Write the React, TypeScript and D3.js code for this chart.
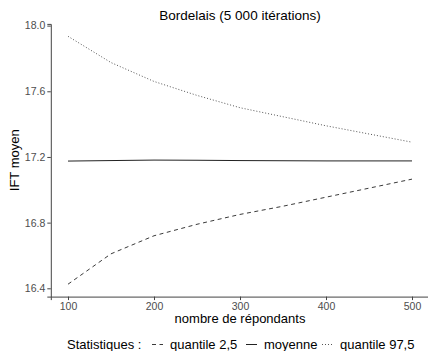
import React, { useEffect, useRef } from 'react';
import * as d3 from 'd3';

// nombre de répondants
const repondants = [100, 150, 200, 250, 300, 350, 400, 450, 500];
// statistiques de l'IFT moyen
const quantile025 = [16.425, 16.61, 16.72, 16.79, 16.85, 16.9, 16.955, 17.01, 17.065];
const moyenne = [17.175, 17.178, 17.181, 17.18, 17.178, 17.177, 17.176, 17.176, 17.176];
const quantile975 = [17.935, 17.775, 17.66, 17.575, 17.5, 17.445, 17.39, 17.34, 17.29];

const xTicks = [100, 200, 300, 400, 500];
const yTicks = [16.4, 16.8, 17.2, 17.6, 18.0];

const series = [
  { name: 'quantile 2,5', values: quantile025, dash: '4,3.5', color: '#3a3a3a' },
  { name: 'moyenne', values: moyenne, dash: null, color: '#222' },
  { name: 'quantile 97,5', values: quantile975, dash: '1,2', color: '#555' },
];

const font = 'Liberation Sans, Arial, Helvetica, sans-serif';

function App() {
  const ref = useRef(null);

  useEffect(() => {
    const svg = d3.select(ref.current);
    svg.selectAll('*').remove();

    const width = 428, height = 351;
    const left = 50.8, right = 429.2, top = 23.9, bottom = 296.6;

    // ggplot-like 5% expansion
    const xExt = d3.extent(repondants);
    const xPad = (xExt[1] - xExt[0]) * 0.05;
    const x = d3.scaleLinear().domain([xExt[0] - xPad, xExt[1] + xPad]).range([left, right]);

    const all = quantile025.concat(moyenne, quantile975);
    const yExt = d3.extent(all);
    const yPad = (yExt[1] - yExt[0]) * 0.05;
    const y = d3.scaleLinear().domain([yExt[0] - yPad, yExt[1] + yPad]).range([bottom, top]);

    svg.attr('width', width).attr('height', height);

    // lines
    const line = d3.line().x((d) => x(d[0])).y((d) => y(d[1]));
    series.forEach((s) => {
      svg.append('path')
        .datum(repondants.map((r, i) => [r, s.values[i]]))
        .attr('d', line)
        .attr('fill', 'none')
        .attr('stroke', s.color)
        .attr('stroke-width', 1)
        .attr('stroke-dasharray', s.dash);
    });

    // axes
    const xAxis = svg.append('g').attr('transform', `translate(0, ${bottom})`)
      .call(d3.axisBottom(x).tickValues(xTicks).tickSize(3.5).tickPadding(2).tickFormat(d3.format('d')));
    const yAxis = svg.append('g').attr('transform', `translate(${left}, 0)`)
      .call(d3.axisLeft(y).tickValues(yTicks).tickSize(3.5).tickPadding(2).tickFormat(d3.format('.1f')));

    [xAxis, yAxis].forEach((a) => {
      a.select('.domain').attr('stroke', '#444').attr('stroke-width', 1);
      a.selectAll('.tick line').attr('stroke', '#444');
      a.selectAll('.tick text').attr('fill', '#4d4d4d').style('font-size', '10.5px').style('font-family', font);
    });

    // title
    svg.append('text')
      .attr('x', (left + right) / 2).attr('y', 20)
      .attr('text-anchor', 'middle')
      .style('font-family', font).style('font-size', '13.5px')
      .text('Bordelais (5 000 itérations)');

    // axis titles
    svg.append('text')
      .attr('x', (left + right) / 2).attr('y', 323)
      .attr('text-anchor', 'middle')
      .style('font-family', font).style('font-size', '13px')
      .text('nombre de répondants');

    svg.append('text')
      .attr('transform', `translate(19, ${(top + bottom) / 2}) rotate(-90)`)
      .attr('text-anchor', 'middle')
      .style('font-family', font).style('font-size', '13px')
      .text('IFT moyen');

    // legend
    const leg = svg.append('g').attr('transform', 'translate(67, 349)');
    leg.append('text').attr('x', 0).attr('y', 0)
      .style('font-family', font).style('font-size', '13px')
      .text('Statistiques :');
    const keyX = [85, 179, 255];
    series.forEach((s, i) => {
      leg.append('line')
        .attr('x1', keyX[i]).attr('x2', keyX[i] + 11)
        .attr('y1', -4.5).attr('y2', -4.5)
        .attr('stroke', s.color).attr('stroke-width', 1)
        .attr('stroke-dasharray', s.dash);
      leg.append('text').attr('x', keyX[i] + 18).attr('y', 0)
        .style('font-family', font).style('font-size', '13px')
        .text(s.name);
    });
  }, []);

  return (
    <div style={{ position: 'absolute', left: 0, top: 0 }}>
      <svg ref={ref}></svg>
    </div>
  );
}

export default App;
